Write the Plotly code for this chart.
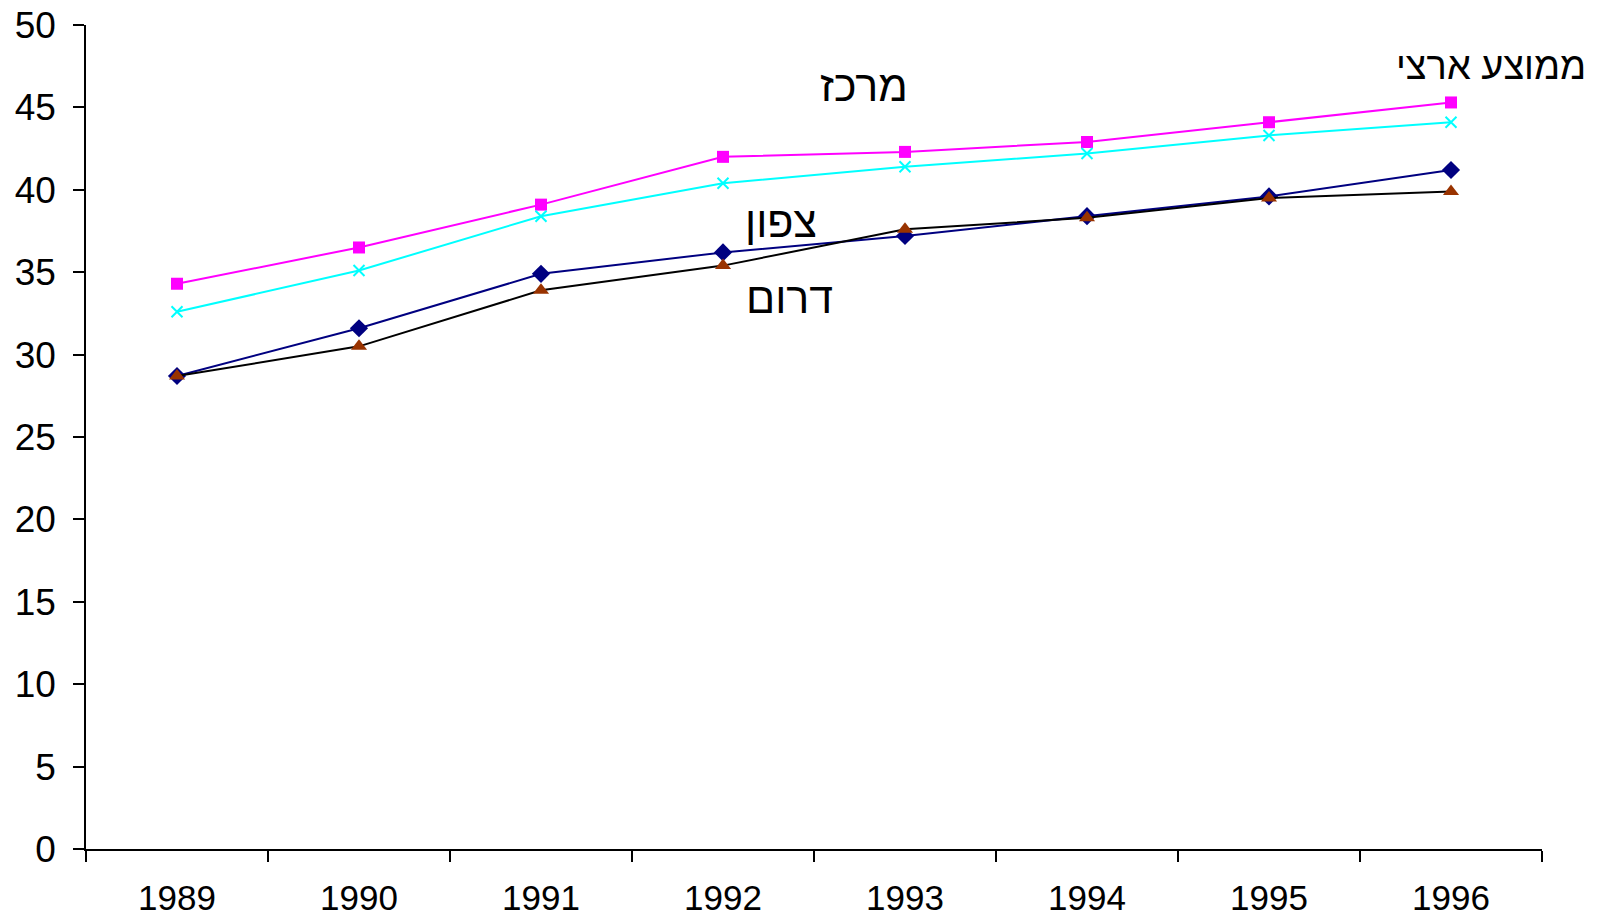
import plotly.graph_objects as go

years = ["1989", "1990", "1991", "1992", "1993", "1994", "1995", "1996"]
center = [34.3, 36.5, 39.1, 42.0, 42.3, 42.9, 44.1, 45.3]
national = [32.6, 35.1, 38.4, 40.4, 41.4, 42.2, 43.3, 44.1]
north = [28.7, 31.6, 34.9, 36.2, 37.2, 38.4, 39.6, 41.2]
south = [28.7, 30.5, 33.9, 35.4, 37.6, 38.3, 39.5, 39.9]

_FONT = "Liberation Sans, Arial, sans-serif"

fig = go.Figure()

fig.add_trace(
    go.Scatter(
        x=years, y=center, mode="lines+markers", name="מרכז",
        line=dict(color="#FF00FF", width=2),
        marker=dict(symbol="square", size=12, color="#FF00FF"),
    )
)
fig.add_trace(
    go.Scatter(
        x=years, y=national, mode="lines+markers", name="ממוצע ארצי",
        line=dict(color="#00FFFF", width=2),
        marker=dict(symbol="x-thin", size=11, line=dict(color="#00FFFF", width=2)),
    )
)
fig.add_trace(
    go.Scatter(
        x=years, y=north, mode="lines+markers", name="צפון",
        line=dict(color="#000080", width=2),
        marker=dict(symbol="diamond", size=14, color="#000080"),
    )
)
fig.add_trace(
    go.Scatter(
        x=years, y=south, mode="lines+markers", name="דרום",
        line=dict(color="#000000", width=2),
        marker=dict(symbol="triangle-up", size=14, color="#993300"),
    )
)

labels = [
    ("מרכז", 0.534, 0.926, 43),
    ("ממוצע ארצי", 0.965, 0.950, 38),
    ("צפון", 0.477, 0.761, 43),
    ("דרום", 0.483, 0.669, 43),
]

# page body has an 8px margin, so margins are shifted to keep the plot box in place
fig.update_layout(
    width=1617,
    height=918,
    margin=dict(l=78, r=83, t=17, b=77),
    paper_bgcolor="white",
    plot_bgcolor="white",
    showlegend=False,
    font=dict(family=_FONT, color="#000000"),
    xaxis=dict(
        type="category",
        range=[-0.5, 7.5],
        automargin=False,
        showgrid=False,
        zeroline=False,
        showline=True,
        linecolor="#000000",
        linewidth=2,
        ticks="outside",
        tickson="boundaries",
        ticklen=11,
        tickwidth=1.5,
        tickcolor="#000000",
        tickfont=dict(size=35, family=_FONT),
        ticklabelstandoff=17,
        ticklabeloverflow="allow",
    ),
    yaxis=dict(
        range=[0, 50],
        dtick=5,
        automargin=False,
        showgrid=False,
        zeroline=False,
        showline=True,
        linecolor="#000000",
        linewidth=1.5,
        ticks="outside",
        ticklen=11,
        tickwidth=1.5,
        tickcolor="#000000",
        tickfont=dict(size=37, family=_FONT),
        ticklabelstandoff=10,
        ticklabeloverflow="allow",
    ),
    annotations=[
        dict(
            text=t, x=x, y=y, xref="paper", yref="paper",
            showarrow=False, font=dict(size=s, family=_FONT, color="#000000"),
            xanchor="center", yanchor="middle",
        )
        for t, x, y, s in labels
    ],
)

fig.write_html("out.html")
